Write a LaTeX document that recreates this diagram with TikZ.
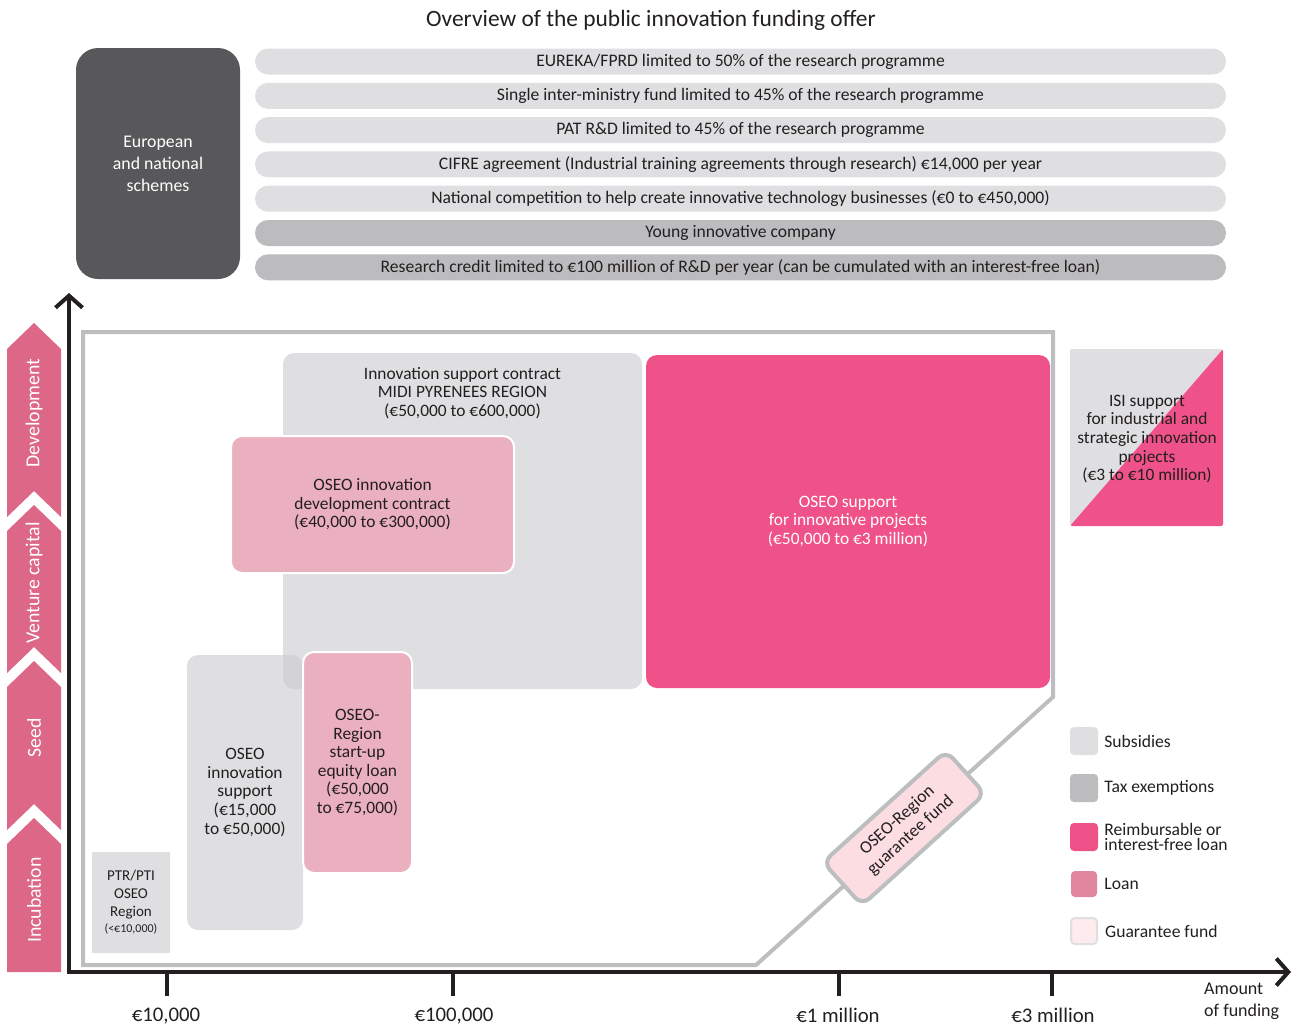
\documentclass[tikz,border=0pt]{standalone}
\usepackage{fontspec}
\setmainfont{Carlito}
\usetikzlibrary{arrows.meta,positioning}
\definecolor{subsidy}{HTML}{DFDFE1}
\definecolor{taxex}{HTML}{BCBCBF}
\definecolor{refund}{HTML}{EF5288}
\definecolor{loanpink}{HTML}{EBB0BF}
\definecolor{loankey}{HTML}{E0869E}
\definecolor{guarant}{HTML}{FBDDE2}
\definecolor{stagepink}{HTML}{DC6787}
\definecolor{framegray}{HTML}{BCBEC0}
\definecolor{overlapgray}{HTML}{D3D3D6}
\definecolor{ink}{HTML}{231F20}
\definecolor{axisink}{HTML}{231F20}
\definecolor{darkscheme}{HTML}{58585A}
\tikzset{
  txt/.style = {align=center, inner sep=0pt, text=ink,
    font=\fontsize{17.4}{18.6}\selectfont},
  fundbar/.style = {txt, rectangle, rounded corners=13pt, fill=subsidy,
    minimum width=971pt, minimum height=26pt,
    font=\fontsize{17.6}{19}\selectfont},% bandeau subvention
  taxbar/.style = {fundbar, fill=taxex},% bandeau exoneration
  offerbox/.style = {txt, rectangle, rounded corners=11pt},% bloc d'aide
  loanbox/.style = {offerbox, fill=loanpink, draw=white, line width=2pt},
  stage/.style = {fill=stagepink},% phase de vie
  stagetxt/.style = {txt, text=white, rotate=90,
    font=\fontsize{19.8}{21}\selectfont},
  axis/.style = {draw=axisink, line width=4pt},
  tick/.style = {draw=axisink, line width=3.5pt},
  ticktxt/.style = {txt, font=\fontsize{20.8}{22}\selectfont},
  key/.style = {rectangle, rounded corners=4pt, minimum size=28pt,
    inner sep=0pt},% legende
  keytxt/.style = {txt, align=left, anchor=west,
    font=\fontsize{17.6}{19}\selectfont}
}
\begin{document}
\begin{tikzpicture}[x=1pt,y=-1pt]
  \useasboundingbox (0,0) rectangle (1297,1026);
  \node[txt, font=\fontsize{23.4}{26}\selectfont] (title) at (651,20)
    {Overview of the public innovation funding offer};
  % dispositifs europeens et nationaux
  \node[offerbox, rounded corners=22pt, fill=darkscheme, text=white,
    minimum width=164pt, minimum height=231pt,
    font=\fontsize{17.8}{22}\selectfont] (euro) at (158,163.5)
    {European\\and national\\schemes};
  \node[fundbar] (eureka) at (740.5,61.5)
    {EUREKA/FPRD limited to 50\% of the research programme};
  \node[fundbar] (fui) at (740.5,95.8)
    {Single inter-ministry fund limited to 45\% of the research programme};
  \node[fundbar] (pat) at (740.5,130.1)
    {PAT R\&D limited to 45\% of the research programme};
  \node[fundbar] (cifre) at (740.5,164.4)
    {CIFRE agreement (Industrial training agreements through research) €14,000 per year};
  \node[fundbar] (natcomp) at (740.5,198.7)
    {National competition to help create innovative technology businesses (€0 to €450,000)};
  \node[taxbar] (jei) at (740.5,233)
    {Young innovative company};
  \node[taxbar] (cir) at (740.5,267.3)
    {Research credit limited to €100 million of R\&D per year (can be cumulated with an interest-free loan)};
  % cadre
  \coordinate (f1) at (83,332);
  \coordinate (f2) at (1053,332);
  \coordinate (f3) at (1053,697);
  \coordinate (f4) at (756,965);
  \coordinate (f5) at (83,965);
  \draw[draw=framegray, line width=4pt] (f1) -- (f2) -- (f3) -- (f4) -- (f5) -- cycle;
  % aides regionales et OSEO
  \node[offerbox, fill=subsidy, minimum width=359pt, minimum height=336pt]
    (isc) at (462.5,521) {};
  \node[txt, anchor=north] (isc-t) at ([yshift=-14pt]isc.north)
    {Innovation support contract\\MIDI PYRENEES REGION\\(€50,000 to €600,000)};
  \node[offerbox, fill=subsidy, minimum width=116pt, minimum height=275pt]
    (ois) at (245,792.5) {};
  \begin{scope}
    \clip[rounded corners=11pt] (283,353) rectangle (642,689);
    \fill[overlapgray, rounded corners=11pt] (187,655) rectangle (303,930);
  \end{scope}
  \node[txt] (ois-t) at (ois.center)
    {OSEO\\innovation\\support\\(€15,000\\to €50,000)};
  \node[loanbox, minimum width=283pt, minimum height=137pt]
    (odc) at (372.5,504.5)
    {OSEO innovation\\development contract\\(€40,000 to €300,000)};
  \node[loanbox, minimum width=109pt, minimum height=221pt]
    (sel) at (357.5,762.5)
    {OSEO-\\Region\\start-up\\equity loan\\(€50,000\\to €75,000)};
  \node[offerbox, fill=refund, text=white, minimum width=404pt, minimum height=333pt]
    (osp) at (848,521.5)
    {OSEO support\\for innovative projects\\(€50,000 to €3 million)};
  \node[offerbox, rounded corners=1pt, fill=subsidy, minimum width=78pt, minimum height=101pt,
    font=\fontsize{15}{18}\selectfont] (ptr) at (131,902.5)
    {PTR/PTI\\OSEO\\Region\\[-2pt]{\fontsize{12}{14}\selectfont(<€10,000)}};
  % ISI : moitie subvention, moitie avance
  \fill[subsidy, rounded corners=2pt] (1070,349) -- (1223,349) -- (1070,526) -- cycle;
  \fill[refund, rounded corners=2pt] (1223,349) -- (1223,526) -- (1070,526) -- cycle;
  \node[txt] (isi) at (1147,439)
    {ISI support\\for industrial and\\strategic innovation\\projects\\(€3 to €10 million)};
  % fonds de garantie
  \node[offerbox, rotate=42.2, rounded corners=10pt, fill=guarant, draw=framegray,
    line width=4pt, minimum width=166pt, minimum height=58pt,
    font=\fontsize{17.6}{20}\selectfont] (gfund) at (904,828)
    {OSEO-Region\\guarantee fund};
  % phases
  \fill[stage] (7,349) -- (34,323) -- (61,349) -- (61,517) -- (34,491) -- (7,517) -- cycle;
  \fill[stage] (7,531) -- (34,505) -- (61,531) -- (61,673) -- (34,647) -- (7,673) -- cycle;
  \fill[stage] (7,687) -- (34,661) -- (61,687) -- (61,830) -- (34,804) -- (7,830) -- cycle;
  \fill[stage] (7,844) -- (34,818) -- (61,844) -- (61,972) -- (7,972) -- cycle;
  \node[stagetxt] (dev) at (34,413) {Development};
  \node[stagetxt] (vc) at (34,583) {Venture capital};
  \node[stagetxt] (seed) at (34,738) {Seed};
  \node[stagetxt] (incub) at (34,900) {Incubation};
  % axes
  \coordinate (ytop) at (69,293);
  \coordinate (origin) at (69,972);
  \coordinate (xend) at (1291,972);
  \draw[axis, {Straight Barb[length=12pt,width=27pt]}-{Straight Barb[length=12pt,width=27pt]}]
    (ytop) -- (origin) -- (xend);
  \coordinate (t1) at (167,972);
  \coordinate (t2) at (453,972);
  \coordinate (t3) at (839,972);
  \coordinate (t4) at (1052,972);
  \draw[tick] (t1) -- ++(0,24);
  \draw[tick] (t2) -- ++(0,24);
  \draw[tick] (t3) -- ++(0,24);
  \draw[tick] (t4) -- ++(0,24);
  \node[ticktxt] (l1) at (166,1016) {€10,000};
  \node[ticktxt] (l2) at (454,1016) {€100,000};
  \node[ticktxt] (l3) at (838,1015) {€1 million};
  \node[ticktxt] (l4) at (1053,1015) {€3 million};
  \node[txt, align=left, anchor=north west, font=\fontsize{18}{22}\selectfont]
    (amount) at (1204,983) {Amount\\of funding};
  % legende
  \node[key, fill=subsidy] (k1) at (1084,741) {};
  \node[key, fill=taxex] (k2) at (1084,788) {};
  \node[key, fill=refund] (k3) at (1084,837) {};
  \node[key, fill=loankey, minimum size=26pt] (k4) at (1084,884) {};
  \node[key, fill=guarant!60, draw=subsidy, line width=2pt, minimum size=26pt] (k5) at (1084,931) {};
  \node[keytxt, right=6pt of k1] (k1-t) {Subsidies};
  \node[keytxt, right=6pt of k2] (k2-t) {Tax exemptions};
  \node[keytxt, right=6pt of k3, font=\fontsize{17.6}{15.5}\selectfont] (k3-t)
    {Reimbursable or\\interest-free loan};
  \node[keytxt, right=7pt of k4] (k4-t) {Loan};
  \node[keytxt, right=7pt of k5] (k5-t) {Guarantee fund};
\end{tikzpicture}
\end{document}
